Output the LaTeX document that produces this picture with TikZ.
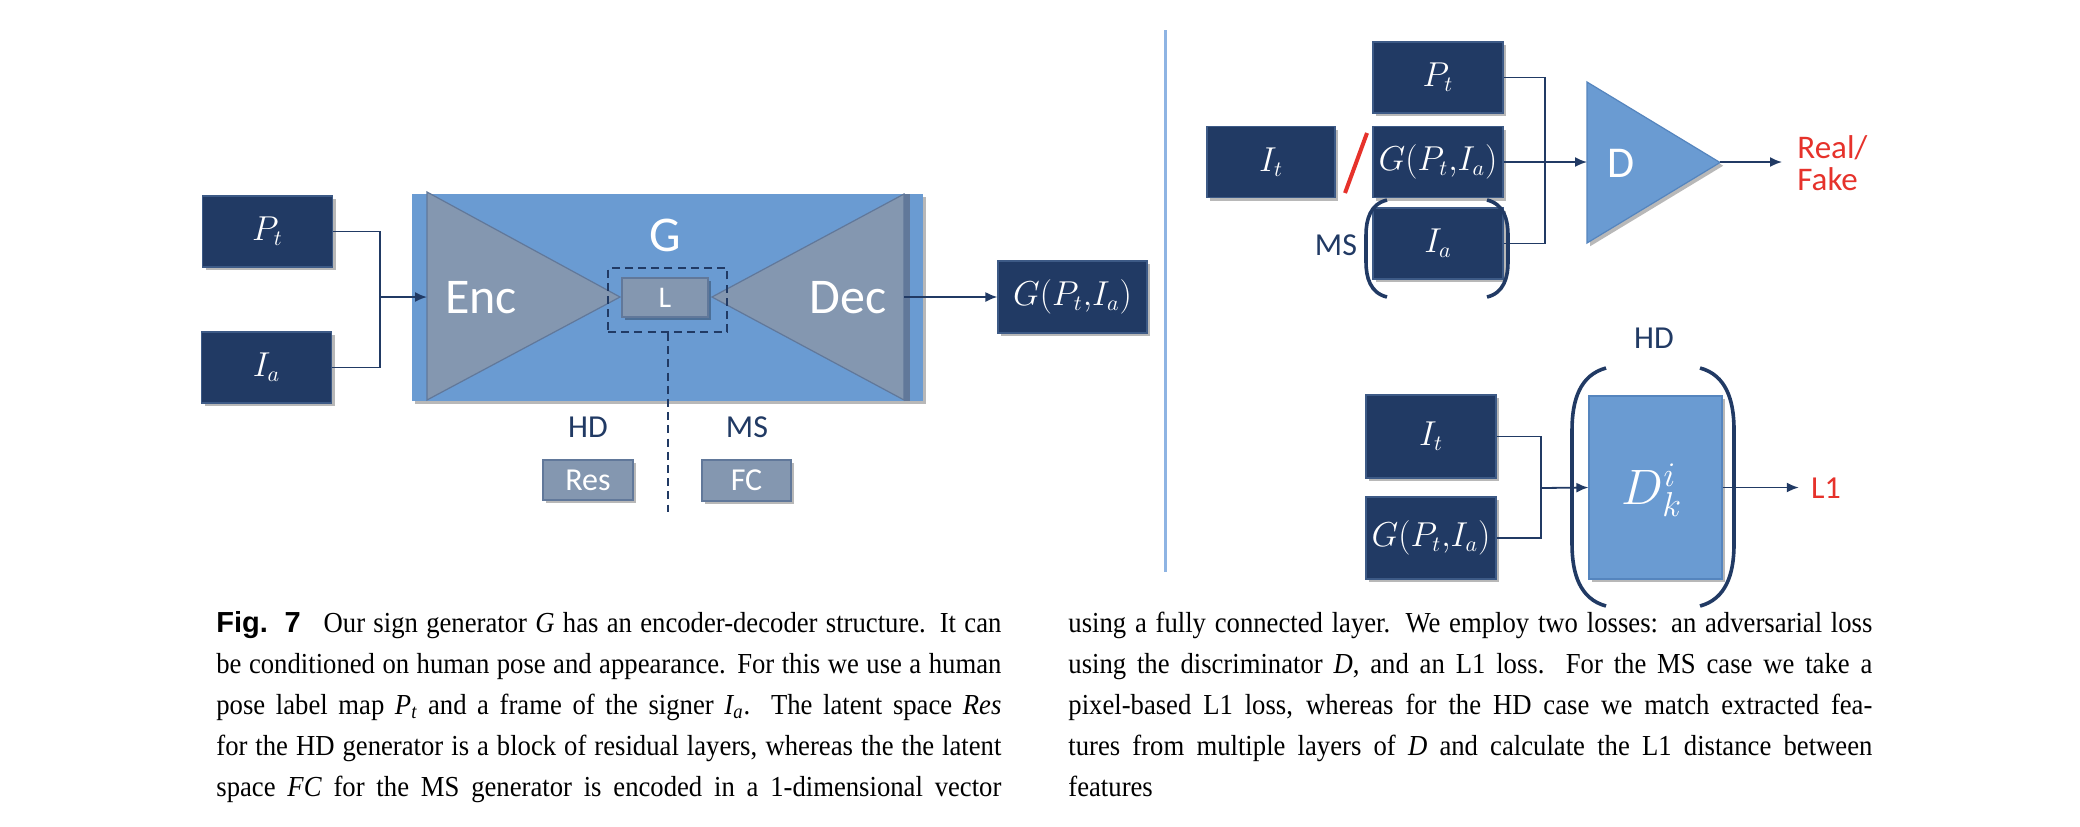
\documentclass[tikz,border=0pt]{standalone}
\usepackage{fontspec}
\setmainfont{Liberation Serif}
\newfontfamily\capfont[FakeStretch=0.92]{Liberation Serif}
\newfontfamily\calfont{Carlito}
\newfontfamily\figfont{Liberation Sans}
\usetikzlibrary{arrows.meta,shadows}
\definecolor{navy}{HTML}{213A64}
\definecolor{navyedge}{HTML}{3D5A86}
\definecolor{gblue}{HTML}{6A9BD2}
\definecolor{gblueedge}{HTML}{5585BE}
\definecolor{grayblue}{HTML}{8497B0}
\definecolor{grayedge}{HTML}{61789A}
\definecolor{redtxt}{HTML}{E6322B}
\definecolor{sepblue}{HTML}{8EB4E3}
\newcommand\fs[1]{\fontsize{#1}{#1}\selectfont}
\newcommand\capsub[2]{{\itshape #1}\textsubscript{\itshape #2}}
\tikzset{
  shad/.style={drop shadow={shadow xshift=1.6pt,shadow yshift=-1.6pt,opacity=0.28,fill=black}},
  nbox/.style={draw=navyedge,line width=0.6pt,fill=navy,text=white,inner sep=0pt,shad,font=\fs{16}},
  gbox/.style={draw=grayedge,line width=0.8pt,fill=grayblue,text=white,inner sep=0pt,shad,font=\calfont\fs{16}},
  wlab/.style={text=white,inner sep=0pt,font=\calfont\fs{25}},
  nlab/.style={text=navy,inner sep=0pt,font=\calfont\fs{16}},
  rlab/.style={text=redtxt,inner sep=0pt,font=\calfont\fs{16.5}},
  conn/.style={draw=navy,line width=0.9pt},
  arr/.style={conn,-{Latex[length=6pt,width=5pt]}},
  dline/.style={draw=navy,line width=1pt,dash pattern=on 4pt off 2.6pt},
  paren/.style={draw=navy,line width=1.8pt},
  tri/.style={fill=grayblue,draw=grayedge,line width=0.6pt},
  capline/.style={anchor=base west,inner sep=0pt,font=\capfont\fs{14.5}},
}
\begin{document}
\begin{tikzpicture}[x=0.5pt,y=-0.5pt]
\useasboundingbox (0,0) rectangle (2080,826);
\fill[white] (0,0) rectangle (2080,826);

% ---------------- left: generator ----------------
\node[nbox,minimum width=65pt,minimum height=35.5pt] (Pt1) at (267.5,231.5) {$P_t$};
\node[nbox,minimum width=65pt,minimum height=35.5pt] (Ia1) at (266.5,367.5) {$I_a$};

\node[fill=gblue,minimum width=255.5pt,minimum height=103.5pt,inner sep=0pt,shad] (Grect) at (667.5,297.5) {};
\fill[tri] (427,192) -- (427,400) -- (620,297) -- cycle;
\fill[tri] (904,194) -- (904,400) -- (712,297) -- cycle;
\fill[grayedge] (904,194) rectangle (910,401);
\coordinate (EncW) at (427,297);
\coordinate (DecE) at (904,297);
\coordinate (J1) at (380,297);

\node[wlab] (Glab) at (665,235) {G};
\node[wlab] (Enc) at (481,298) {Enc};
\node[wlab] (Dec) at (848,298) {Dec};

\node[draw=navy,line width=1pt,dash pattern=on 4pt off 2.6pt,minimum width=59.5pt,minimum height=32pt,inner sep=0pt] (Lbox) at (667.5,300) {};
\node[gbox,minimum width=43pt,minimum height=19.5pt,font=\calfont\fs{15}] (L) at (665,297.5) {L};
\coordinate (Lend) at (667.5,512);
\draw[dline] (Lbox.south) -- (Lend);

\node[nlab] (HD1) at (588,427) {HD};
\node[nlab] (MS1) at (747,427) {MS};
\node[gbox,minimum width=45pt,minimum height=20pt] (Res) at (588,480) {Res};
\node[gbox,minimum width=44.5pt,minimum height=20.5pt] (FC) at (746.5,480.5) {FC};

\node[nbox,minimum width=74.5pt,minimum height=36pt] (Out) at (1072.5,297) {$G(P_t{,}I_a)$};

\draw[conn] (Pt1.east) -| (J1) |- (Ia1.east);
\draw[arr] (J1) -- (EncW);
\draw[arr] (DecE) -- (Out.west);

% ---------------- separator ----------------
\coordinate (SepT) at (1165,30);
\coordinate (SepB) at (1165,572);
\draw[sepblue,line width=1.5pt] (SepT) -- (SepB);

% ---------------- right top: discriminator ----------------
\node[nbox,minimum width=65pt,minimum height=35.5pt] (Pt2) at (1438,77.5) {$P_t$};
\node[nbox,minimum width=64pt,minimum height=35.5pt] (It2) at (1271,162) {$I_t$};
\node[nbox,minimum width=65pt,minimum height=35.5pt] (Gr2) at (1438,162) {$G(P_t{,}I_a)$};
\node[nbox,minimum width=65pt,minimum height=35.5pt] (Ia2) at (1438,243.5) {$I_a$};
\draw[redtxt,line width=2pt] (1345,193) -- (1367,133);
\node[nlab] (MS2) at (1336,245) {MS};
\draw[paren] (1387,200) .. controls (1370,204) and (1366,220) .. (1366,235) -- (1366,262) .. controls (1366,277) and (1370,293) .. (1387,297);
\draw[paren] (1487,200) .. controls (1504,204) and (1508,220) .. (1508,235) -- (1508,262) .. controls (1508,277) and (1504,293) .. (1487,297);

\filldraw[fill=gblue,draw=gblueedge,line width=0.6pt,shad] (1587,82) -- (1587,243) -- (1720,162.5) -- cycle;
\coordinate (Dw) at (1587,162);
\coordinate (De) at (1720,162);
\coordinate (J2) at (1545,162);
\node[wlab,font=\calfont\fs{22}] (Dlab) at (1621,163) {D};
\node[rlab,anchor=west,align=left] (RF) at (1797,163) {Real/\\[-0.4pt]Fake};

\draw[conn] (Pt2.east) -| (J2) |- (Ia2.east);
\draw[arr] (Gr2.east) -- (Dw);
\draw[arr,shorten >=7.5pt] (De) -- (De -| RF.west);

% ---------------- right bottom: feature matching ----------------
\node[nlab] (HD2) at (1654,338) {HD};
\node[nbox,minimum width=65pt,minimum height=41.5pt] (It3) at (1431,436.5) {$I_t$};
\node[nbox,minimum width=65pt,minimum height=41pt] (G3) at (1431,538) {$G(P_t{,}I_a)$};
\node[fill=gblue,draw=gblueedge,line width=0.6pt,minimum width=66.5pt,minimum height=91.5pt,inner sep=0pt,shad] (Dki) at (1655.5,487.5) {};
\node[text=white,inner sep=0pt,font=\fs{25}] (Dkilab) at (1652,490) {$D_k^i$};
\coordinate (J3) at (1541,488);
\node[rlab,font=\calfont\fs{16}] (L1) at (1826,488) {L1};
\draw[paren] (1606,368) .. controls (1580,375) and (1572,400) .. (1572,430) -- (1572,544) .. controls (1572,574) and (1580,599) .. (1606,606);
\draw[paren] (1700,368) .. controls (1726,375) and (1734,400) .. (1734,430) -- (1734,544) .. controls (1734,574) and (1726,599) .. (1700,606);

\draw[conn] (It3.east) -| (J3) |- (G3.east);
\draw[arr] (J3) -- (Dki.west);
\draw[arr,shorten >=6pt] (Dki.east) -- (Dki.east -| L1.west);

% ---------------- caption ----------------
\node[capline] (c1) at (216,632) {\makebox[392.5pt][s]{{\figfont\bfseries Fig. 7}\hspace{0.5em} Our sign generator \textit{G} has an encoder-decoder structure. It can}};
\node[capline] (c2) at (216,673) {\makebox[392.5pt][s]{be conditioned on human pose and appearance. For this we use a human}};
\node[capline] (c3) at (216,714) {\makebox[392.5pt][s]{pose label map \capsub{P}{t} and a frame of the signer \capsub{I}{a}. The latent space \textit{Res}}};
\node[capline] (c4) at (216,755) {\makebox[392.5pt][s]{for the HD generator is a block of residual layers, whereas the the latent}};
\node[capline] (c5) at (216,796) {\makebox[392.5pt][s]{space \textit{FC} for the MS generator is encoded in a 1-dimensional vector}};

\node[capline] (d1) at (1068,632) {\makebox[402pt][s]{using a fully connected layer. We employ two losses: an adversarial loss}};
\node[capline] (d2) at (1068,673) {\makebox[402pt][s]{using the discriminator \textit{D}, and an L1 loss. For the MS case we take a}};
\node[capline] (d3) at (1068,714) {\makebox[402pt][s]{pixel-based L1 loss, whereas for the HD case we match extracted fea-}};
\node[capline] (d4) at (1068,755) {\makebox[402pt][s]{tures from multiple layers of \textit{D} and calculate the L1 distance between}};
\node[capline] (d5) at (1068,796) {features};
\end{tikzpicture}
\end{document}
